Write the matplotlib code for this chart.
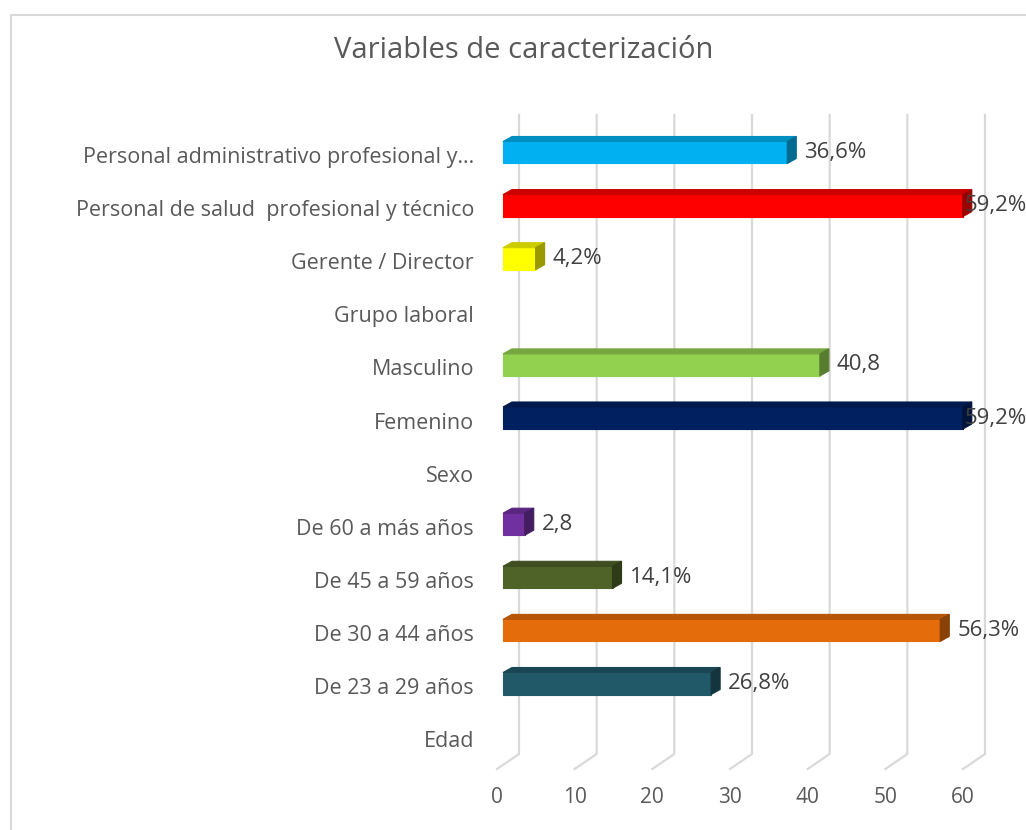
import matplotlib
matplotlib.use('Agg')
import matplotlib.pyplot as plt
from matplotlib.patches import Polygon
from matplotlib.lines import Line2D
from matplotlib.transforms import IdentityTransform
import numpy as np

plt.rcParams['font.family'] = ['Open Sans', 'DejaVu Sans']

title = "Variables de caracterización"
categories = ["Personal administrativo profesional y…",
              "Personal de salud  profesional y técnico",
              "Gerente / Director", "Grupo laboral", "Masculino", "Femenino",
              "Sexo", "De 60 a más años", "De 45 a 59 años", "De 30 a 44 años",
              "De 23 a 29 años", "Edad"]
values = [36.6, 59.2, 4.2, None, 40.8, 59.2, None, 2.8, 14.1, 56.3, 26.8, None]
value_labels = ["36,6%", "59,2%", "4,2%", "", "40,8", "59,2%", "", "2,8",
                "14,1%", "56,3%", "26,8%", ""]
colors = ["#00B0F0", "#FF0000", "#FFFF00", None, "#92D050", "#002060", None,
          "#7030A0", "#4F6228", "#E46C0A", "#215968", None]
xticks = [0, 10, 20, 30, 40, 50, 60]

W, H = 1026, 830
fig = plt.figure(figsize=(W / 100, H / 100), dpi=100)
fig.patch.set_facecolor('white')

def fx(px):
    return px / W

def fy(py):
    return 1 - py / H

TOP, BOT = 130, 769
ax = fig.add_axes([fx(497), fy(BOT), (963 - 497) / W, (BOT - TOP) / H])
ax.set_xlim(0, 60)
y0, dy = 157.5, 53.1
ax.set_ylim((BOT - y0) / dy, (TOP - y0) / dy)
ax.axis('off')

ID = IdentityTransform()
grid_c = '#D9D9D9'
text_c = '#595959'

def P(x, y):
    return ax.transData.transform((x, y))

ybot = ax.get_ylim()[0]
# gridlines (3D floor + back wall)
for t in xticks:
    fxp, fyp = P(t, ybot)
    bx, by = fxp + 22, fyp + 15
    ax.add_line(Line2D([fxp, bx, bx], [fyp, by, H - 115], transform=ID,
                       color=grid_c, lw=1.6, clip_on=False, zorder=1))
    ax.text(fxp, fyp - 28, str(t), transform=ID, ha='center', va='center',
            fontsize=15, color=text_c)

def shade(c, f):
    r, g, b = matplotlib.colors.to_rgb(c)
    return (r * f, g * f, b * f)

DX, DY = 9, 5      # bar depth
OX, OY = 6, 5      # bar offset from front plane
HH = 11            # half bar height (px)

cap_x = P(60, 0)[0] + 2
for i, (cat, v, lab, c) in enumerate(zip(categories, values, value_labels, colors)):
    lx, ly = P(0, i)
    ax.text(lx - 23, ly, cat, transform=ID, ha='right', va='center',
            fontsize=15.5, color=text_c)
    if v is None:
        continue
    rx, _ = P(v, i)
    L, R = lx + OX, rx + OX
    cy = ly + OY
    front = Polygon([(L, cy - HH), (R, cy - HH), (R, cy + HH), (L, cy + HH)],
                    closed=True, transform=ID, facecolor=c,
                    edgecolor=shade(c, 1.0), lw=0.8, clip_on=False, zorder=3)
    topf = Polygon([(L, cy + HH), (R, cy + HH), (R + DX, cy + HH + DY),
                    (L + DX, cy + HH + DY)], closed=True, transform=ID,
                   facecolor=shade(c, 0.8), edgecolor=shade(c, 0.8), lw=0.8,
                   clip_on=False, zorder=3)
    side = Polygon([(R, cy - HH), (R + DX, cy - HH + DY), (R + DX, cy + HH + DY),
                    (R, cy + HH)], closed=True, transform=ID,
                   facecolor=shade(c, 0.6), edgecolor=shade(c, 0.6), lw=0.8,
                   clip_on=False, zorder=3)
    for p in (front, topf, side):
        ax.add_patch(p)
    tx = min(R + DX + 8, cap_x)
    ax.text(tx, cy, lab, transform=ID, ha='left', va='center', fontsize=16,
            color='#404040', zorder=5)

fig.text(fx(524), fy(51), title, ha='center', va='center', fontsize=21,
         color=text_c)

# chart area border (left & top visible)
fig.add_artist(Line2D([10.5, 10.5, W + 5], [-5, H - 14.5, H - 14.5],
                      transform=ID, color=grid_c, lw=1.5))

fig.savefig('out.png', dpi=100, facecolor='white')
